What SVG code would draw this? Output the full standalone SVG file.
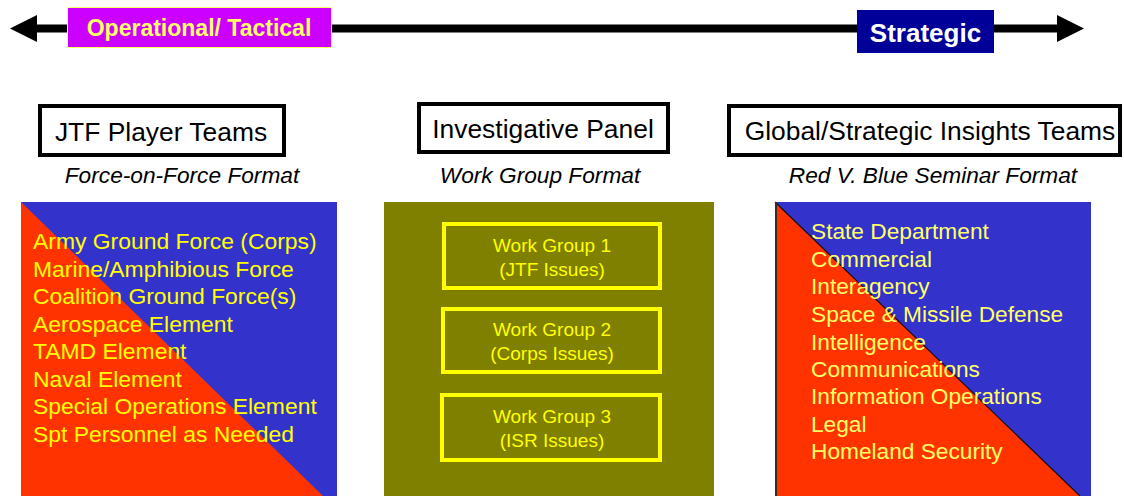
<svg xmlns="http://www.w3.org/2000/svg" width="1124" height="496" viewBox="0 0 1124 496">
<style>
.title{font-family:"Liberation Sans",Arial,sans-serif;font-size:26.4px;fill:#000;text-anchor:middle}
.fmt{font-family:"Liberation Sans",Arial,sans-serif;font-size:22.7px;font-style:italic;fill:#000;text-anchor:middle}
.tbox{fill:#fff;stroke:#000;stroke-width:4}
.list{font-family:"Liberation Sans",Arial,sans-serif;font-size:22.9px;fill:#FFFF00}
.list2{font-family:"Liberation Sans",Arial,sans-serif;font-size:22.7px;fill:#FFFF66}
.wg{fill:none;stroke:#FFFF00;stroke-width:4}
.wgt{font-family:"Liberation Sans",Arial,sans-serif;font-size:19px;fill:#FFFF00;text-anchor:middle}
</style>
<defs>
<marker id="ah" viewBox="0 0 10 10" refX="0" refY="5" markerWidth="27" markerHeight="27" markerUnits="userSpaceOnUse" orient="auto-start-reverse">
<path d="M0,0 L10,5 L0,10 Z" fill="#000"/>
</marker>
</defs>
<g id="connectors">
<line x1="37" y1="28.5" x2="1057" y2="28.5" stroke="#000" stroke-width="8" marker-start="url(#ah)" marker-end="url(#ah)"/>
</g>
<g id="operational">
<rect x="67.5" y="7.5" width="264" height="40" fill="#CC00FF" stroke="#FFFF66" stroke-width="1"/>
<text x="199" y="36" font-family="Liberation Sans,Arial,sans-serif" font-size="23" font-weight="bold" fill="#FFFF66" text-anchor="middle">Operational/ Tactical</text>
</g>
<g id="strategic">
<rect x="857" y="10" width="137" height="43" fill="#000099"/>
<text x="925.5" y="41.5" font-family="Liberation Sans,Arial,sans-serif" font-size="26" font-weight="bold" fill="#fff" text-anchor="middle">Strategic</text>
</g>
<g id="jtf-title">
<rect class="tbox" x="40" y="106" width="244" height="49"/>
<text class="title" x="161" y="141">JTF Player Teams</text>
<text class="fmt" x="182" y="183">Force-on-Force Format</text>
</g>
<g id="jtf-panel">
<rect x="21" y="202" width="316" height="294" fill="#3333CC"/>
<polygon points="21,202 323,496 21,496" fill="#FF3300"/>
<text class="list" x="33" y="249">Army Ground Force (Corps)</text>
<text class="list" x="33" y="277">Marine/Amphibious Force</text>
<text class="list" x="33" y="304">Coalition Ground Force(s)</text>
<text class="list" x="33" y="332">Aerospace Element</text>
<text class="list" x="33" y="359">TAMD Element</text>
<text class="list" x="33" y="387">Naval Element</text>
<text class="list" x="33" y="414">Special Operations Element</text>
<text class="list" x="33" y="442">Spt Personnel as Needed</text>
</g>
<g id="panel-title">
<rect class="tbox" x="419" y="104" width="249" height="48"/>
<text class="title" x="543" y="138">Investigative Panel</text>
<text class="fmt" x="540" y="183">Work Group Format</text>
</g>
<g id="panel">
<rect x="384" y="202" width="330" height="294" fill="#808000"/>
</g>
<g id="wg1">
<rect class="wg" x="444" y="224" width="216" height="64"/>
<text class="wgt" x="552" y="252">Work Group 1</text>
<text class="wgt" x="552" y="276">(JTF Issues)</text>
</g>
<g id="wg2">
<rect class="wg" x="443" y="309" width="217" height="63"/>
<text class="wgt" x="552" y="336">Work Group 2</text>
<text class="wgt" x="552" y="360">(Corps Issues)</text>
</g>
<g id="wg3">
<rect class="wg" x="442" y="395" width="218" height="65"/>
<text class="wgt" x="552" y="423">Work Group 3</text>
<text class="wgt" x="552" y="447">(ISR Issues)</text>
</g>
<g id="global-title">
<rect class="tbox" x="729" y="106" width="391" height="49"/>
<text class="title" x="930" y="140">Global/Strategic Insights Teams</text>
<text class="fmt" x="933" y="183">Red V. Blue Seminar Format</text>
</g>
<g id="global-panel">
<rect x="775" y="202" width="316" height="294" fill="#3333CC"/>
<polygon points="775,202 1080,496 775,496" fill="#FF3300"/>
<line x1="775" y1="202" x2="1080" y2="496" stroke="#111" stroke-width="1.2"/>
<line x1="776" y1="202" x2="776" y2="496" stroke="#3a2a22" stroke-width="2"/>
<text class="list2" x="811" y="239">State Department</text>
<text class="list2" x="811" y="267">Commercial</text>
<text class="list2" x="811" y="294">Interagency</text>
<text class="list2" x="811" y="322">Space &amp; Missile Defense</text>
<text class="list2" x="811" y="350">Intelligence</text>
<text class="list2" x="811" y="377">Communications</text>
<text class="list2" x="811" y="404">Information Operations</text>
<text class="list2" x="811" y="432">Legal</text>
<text class="list2" x="811" y="459">Homeland Security</text>
</g>
</svg>
